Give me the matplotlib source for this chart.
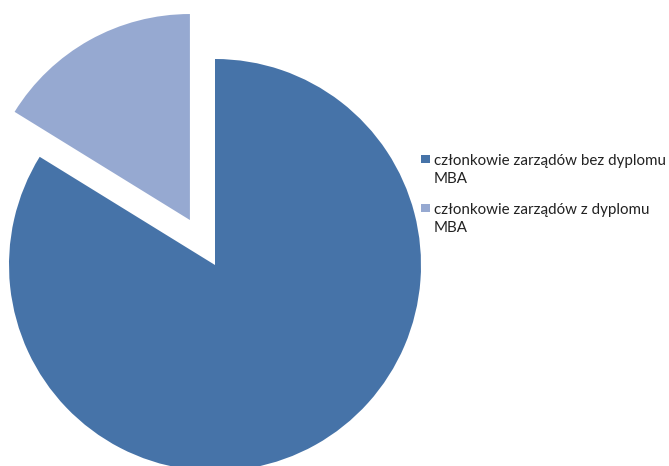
import matplotlib
matplotlib.use("Agg")
import matplotlib.pyplot as plt
from matplotlib.patches import Rectangle

labels = ["członkowie zarządów bez dyplomu\nMBA", "członkowie zarządów z dyplomu\nMBA"]
values = [83.8, 16.2]
colors = ["#4673A8", "#96A9D1"]
explode = [0.0, 0.25]

W, H = 669, 466
fig = plt.figure(figsize=(W / 100, H / 100), dpi=100)
ax = fig.add_axes([0, 0, 1, 1])

cx, cy, r = 215, 265, 206
ax.pie(values, colors=colors, explode=explode, startangle=90, counterclock=False,
       radius=1.0, center=(0, 0), wedgeprops=dict(linewidth=0))
ax.set_aspect('auto')
ax.set_xlim(-cx / r, (W - cx) / r)
ax.set_ylim(-(H - cy) / r, cy / r)
ax.axis('off')

# legend (drawn manually so the square aligns with the first line)
first_baselines = [164, 213]
line_gap = 19
for lab, col, yb in zip(labels, colors, first_baselines):
    fig.patches.append(Rectangle((421 / W, 1 - (yb - 1) / H), 9 / W, 8 / H,
                                 transform=fig.transFigure, facecolor=col,
                                 edgecolor='none', figure=fig))
    fig.text(434 / W, 1 - (yb + line_gap) / H, lab, ha='left', va='baseline',
             family='Lato', size=10.9, color='#222222', linespacing=1.37)
fig.savefig("out.png", dpi=100)
